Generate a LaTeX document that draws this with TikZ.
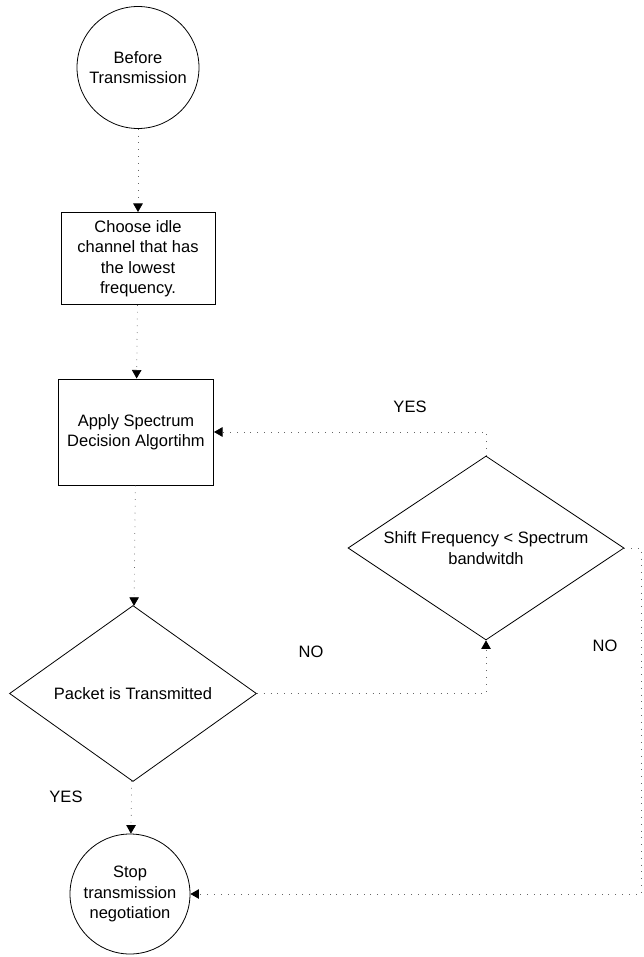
\documentclass[tikz,border=0pt]{standalone}
\usepackage{fontspec}
\setmainfont{Liberation Sans}
\usetikzlibrary{shapes.geometric,arrows.meta}
\begin{document}
\begin{tikzpicture}[x=1pt,y=-1pt,
  every node/.style={font=\fontsize{16.5}{20.5}\selectfont},
  termnode/.style={circle,draw,line width=0.8pt,inner sep=0pt,align=center},
  procbox/.style={rectangle,draw,line width=1pt,inner sep=0pt,align=center},
  decision/.style={diamond,draw,line width=0.8pt,inner sep=0pt,align=center},
  flow/.style={line width=0.7pt,black!60,dash pattern=on 0.8pt off 6pt,
    -{Triangle[width=9.5pt,length=8.5pt,black]}},
  lbl/.style={inner sep=0pt}]
\useasboundingbox (0,0) rectangle (643,957);

\node[termnode,minimum size=122pt] (bt) at (138,67.5) {Before\\Transmission};
\node[procbox,minimum width=154pt,minimum height=92pt] (b1) at (138,258.5)
  {Choose idle\\channel that has\\the lowest\\frequency.};
\node[procbox,minimum width=155pt,minimum height=106pt] (b2) at (136,432)
  {Apply Spectrum\\Decision Algortihm};
\node[decision,aspect=1.5,minimum width=276pt,minimum height=184pt] (sd) at (486,548)
  {Shift Frequency {<} Spectrum\\bandwitdh};
\node[decision,aspect=1.4,minimum width=247pt,minimum height=176pt] (pd) at (133,693.5)
  {Packet is Transmitted};
\node[termnode,minimum size=120pt] (st) at (130,894) {Stop\\transmission\\negotiation};

\coordinate (rtop) at (641,548);
\coordinate (rbot) at (641,894);

\draw[flow] (bt) -- (b1);
\draw[flow] (b1) -- (b2);
\draw[flow] (b2) -- (pd);
\draw[flow] (pd) -- (st);
\draw[flow] (pd.east) -- (pd.east -| sd.south) -- (sd.south);
\draw[flow] (sd.north) |- (b2.east);
\draw[flow] (sd.east) -- (rtop) -- (rbot) -- (st.east);

\node[lbl] (yes1) at (410,407) {YES};
\node[lbl] (no1) at (605,646) {NO};
\node[lbl] (no2) at (311,652) {NO};
\node[lbl] (yes2) at (66,797) {YES};
\end{tikzpicture}
\end{document}
